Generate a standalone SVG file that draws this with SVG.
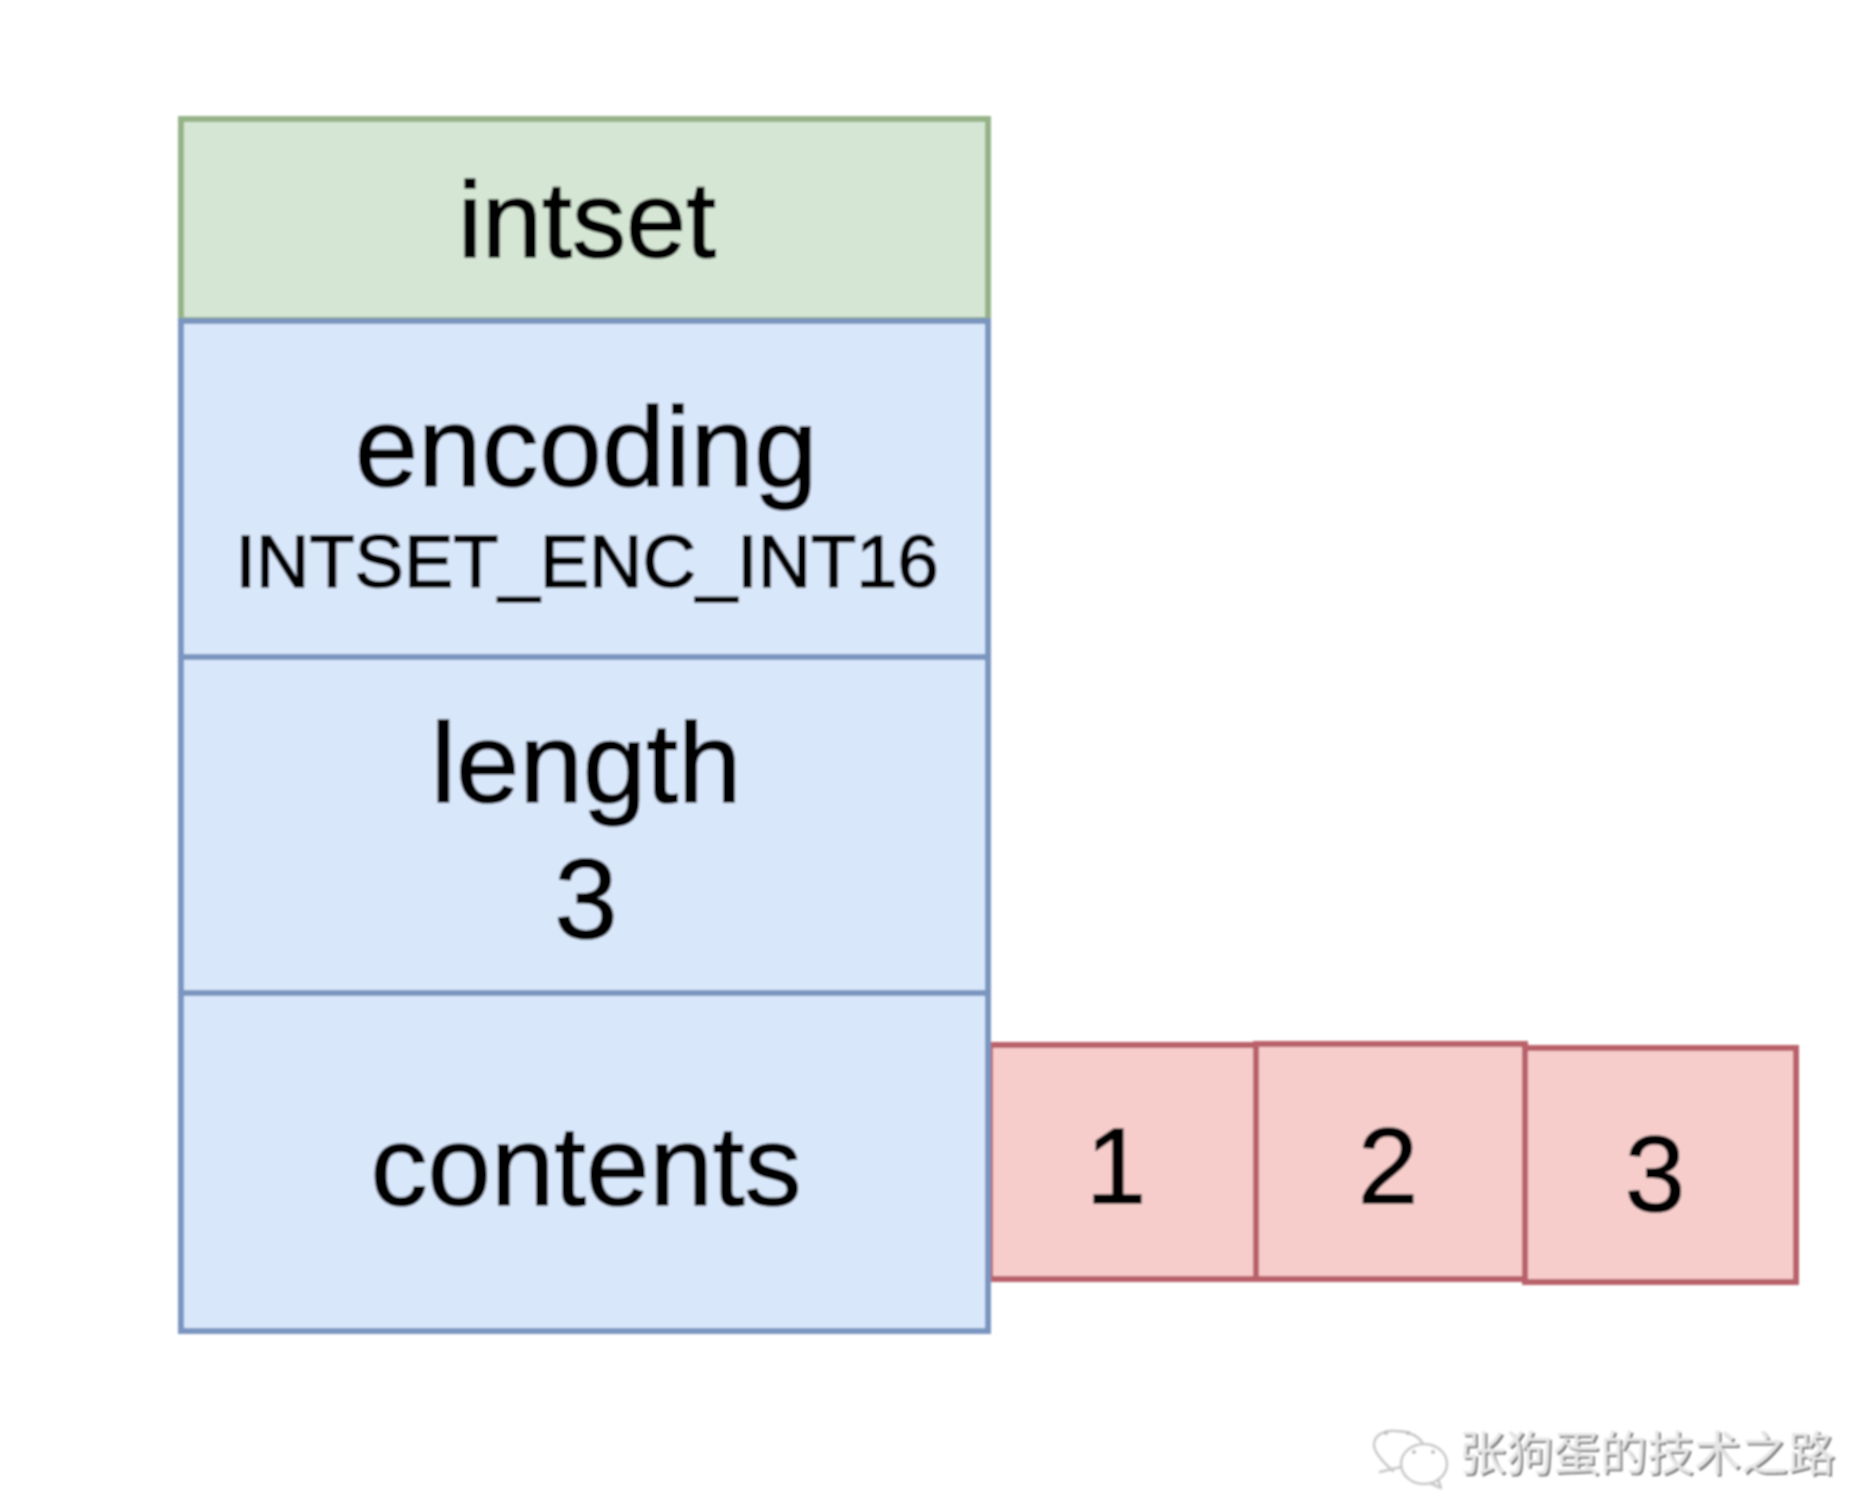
<svg xmlns="http://www.w3.org/2000/svg" width="1858" height="1504" viewBox="0 0 1858 1504">
<defs>
<style>
.t{font-family:"Liberation Sans",Arial,sans-serif;fill:#050505;stroke:#050505;stroke-width:1.6;text-anchor:middle}
.l{font-size:114px}
.n{font-size:108px}
.s{font-size:74px}
.g rect{fill:#d5e7d4;stroke:#96b388;stroke-width:6}
.b rect{fill:#d9e7fb;stroke:#7a95bf;stroke-width:6}
.r rect{fill:#f6cdcb;stroke:#b9626b;stroke-width:6}
.wm{font-family:"Noto Sans CJK SC",sans-serif;font-size:47px}
.ic{fill:none;stroke:#c8c8c8;stroke-width:2.5;stroke-linecap:round;stroke-linejoin:round}
</style>
<filter id="soft" x="-2%" y="-2%" width="104%" height="104%"><feGaussianBlur stdDeviation="0.9"/></filter>
<filter id="wb" x="-5%" y="-20%" width="110%" height="140%"><feGaussianBlur stdDeviation="0.9"/></filter>
</defs>
<rect width="1858" height="1504" fill="#ffffff"/>
<g id="diagram" filter="url(#soft)">
<g id="connectors"></g>
<g id="cell1" class="r"><rect x="990" y="1045" width="266" height="234"/><text class="t n" x="1116" y="1203">1</text></g>
<g id="cell2" class="r"><rect x="1256" y="1044" width="269" height="235"/><text class="t n" x="1388" y="1203">2</text></g>
<g id="cell3" class="r"><rect x="1525" y="1048" width="271" height="234"/><text class="t n" x="1655" y="1211">3</text></g>
<g id="intset" class="g"><rect x="181" y="119" width="807" height="201"/><text class="t n" x="587" y="257">intset</text></g>
<g id="encoding" class="b"><rect x="181" y="321" width="807" height="336"/><text class="t l" x="586" y="486">encoding</text><text class="t s" x="587" y="587">INTSET_ENC_INT16</text></g>
<g id="length" class="b"><rect x="181" y="657" width="807" height="336"/><text class="t l" x="586" y="802">length</text><text class="t l" x="586" y="938">3</text></g>
<g id="contents" class="b"><rect x="181" y="993" width="807" height="338"/><text class="t l" x="586" y="1205">contents</text></g>
</g>
<g id="watermark" filter="url(#wb)">
<text class="wm" x="1461" y="1472" fill="#777777">张狗蛋的技术之路</text>
<text class="wm" x="1459" y="1470" fill="#e6e6e6">张狗蛋的技术之路</text>
<path class="ic" d="M1393 1471 C1383 1462 1374 1452 1374 1445 C1374 1434 1386 1430 1396 1431 C1406 1431 1416 1434 1422 1442"/>
<path class="ic" d="M1380 1472 L1392 1469 L1401 1467"/>
<ellipse class="ic" cx="1424" cy="1464" rx="23" ry="20"/>
<path class="ic" d="M1430 1483 L1441 1488 L1438 1479"/>
<g fill="#bdbdbd"><circle cx="1386" cy="1433" r="2"/><circle cx="1408" cy="1433" r="2"/><circle cx="1414" cy="1452" r="2"/><circle cx="1433" cy="1452" r="2"/></g>
</g>
</svg>
